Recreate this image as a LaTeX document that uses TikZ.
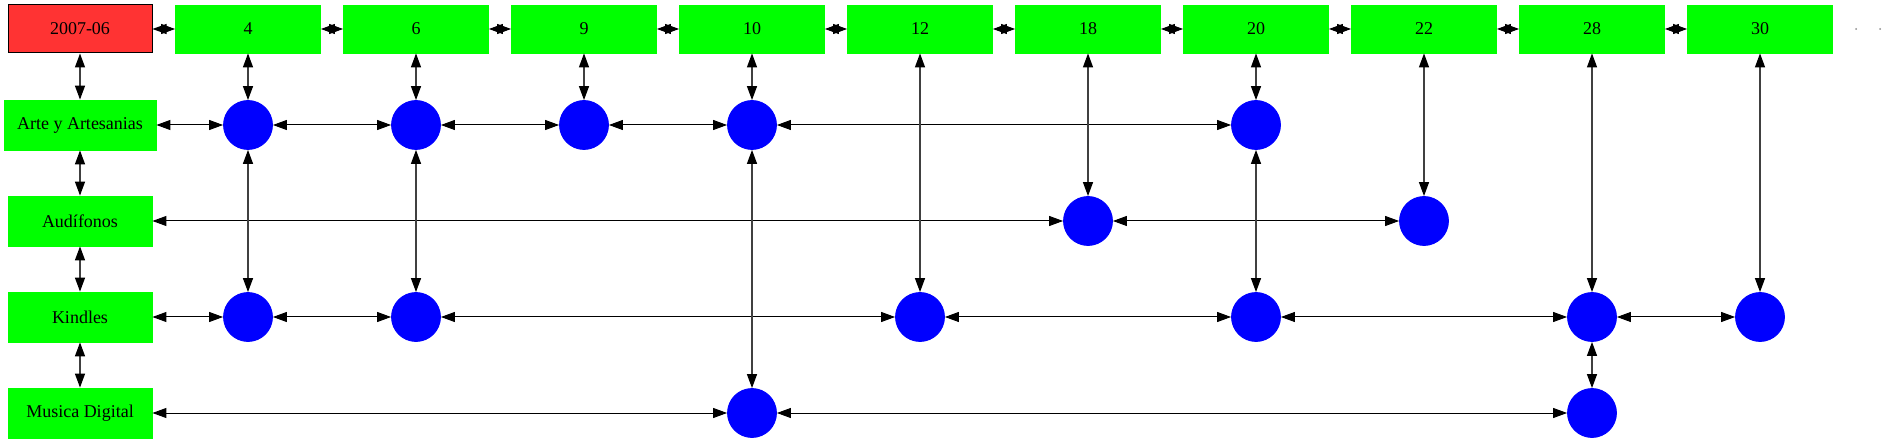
\documentclass[tikz,border=0pt]{standalone}
\usepackage{fontspec}
\setmainfont{Liberation Serif}
\usetikzlibrary{arrows.meta}
\definecolor{boxgreen}{HTML}{00FF00}
\definecolor{monthred}{HTML}{FF3333}
\definecolor{dotblue}{HTML}{0000FF}

\begin{document}
\begin{tikzpicture}[
    x=0.5pt, y=-0.5pt,
    every node/.style={font=\fontsize{9}{11}\selectfont},
    month/.style={draw=black, line width=0.5pt, fill=monthred, minimum width=72pt,
                  minimum height=24pt, inner sep=0pt},
    period/.style={draw=boxgreen, fill=boxgreen, minimum width=72.5pt,
                  minimum height=24pt, inner sep=0pt},
    category/.style={draw=boxgreen, fill=boxgreen, minimum width=72pt,
                  minimum height=25pt, inner xsep=6.5pt, inner ysep=0pt},
    sale/.style={circle, draw=dotblue, fill=dotblue, minimum size=24.5pt, inner sep=0pt},
    link/.style={{Triangle[length=7pt,width=5pt,color=black]}-{Triangle[length=7pt,width=5pt,color=black]},
                  line width=0.5pt},
    vlink/.style={link, draw=black!75, line width=0.65pt}
  ]
    \useasboundingbox (0,0) rectangle (1885,443);

    % Fila superior: mes y periodos
    \node[month]  (m0)  at (80,29)   {2007-06};
    \node[period] (p4)  at (248,29)  {4};
    \node[period] (p6)  at (416,29)  {6};
    \node[period] (p9)  at (584,29)  {9};
    \node[period] (p10) at (752,29)  {10};
    \node[period] (p12) at (920,29)  {12};
    \node[period] (p18) at (1088,29) {18};
    \node[period] (p20) at (1256,29) {20};
    \node[period] (p22) at (1424,29) {22};
    \node[period] (p28) at (1592,29) {28};
    \node[period] (p30) at (1760,29) {30};
    \coordinate (e1) at (1856,29);
    \coordinate (e2) at (1880,29);

    % Columna izquierda: categorias
    \node[category] (art) at (80,125) {Arte y Artesanias};
    \node[category] (aud) at (80,221) {Audífonos};
    \node[category] (kin) at (80,317) {Kindles};
    \node[category] (mus) at (80,413) {Musica Digital};

    % Ventas
    \node[sale] (art4)  at (248,125)  {};
    \node[sale] (art6)  at (416,125)  {};
    \node[sale] (art9)  at (584,125)  {};
    \node[sale] (art10) at (752,125)  {};
    \node[sale] (art20) at (1256,125) {};
    \node[sale] (aud18) at (1088,221) {};
    \node[sale] (aud22) at (1424,221) {};
    \node[sale] (kin4)  at (248,317)  {};
    \node[sale] (kin6)  at (416,317)  {};
    \node[sale] (kin12) at (920,317)  {};
    \node[sale] (kin20) at (1256,317) {};
    \node[sale] (kin28) at (1592,317) {};
    \node[sale] (kin30) at (1760,317) {};
    \node[sale] (mus10) at (752,413)  {};
    \node[sale] (mus28) at (1592,413) {};

    % Conexiones horizontales
    \draw[link] (m0) -- (p4);
    \draw[link] (p4) -- (p6);
    \draw[link] (p6) -- (p9);
    \draw[link] (p9) -- (p10);
    \draw[link] (p10) -- (p12);
    \draw[link] (p12) -- (p18);
    \draw[link] (p18) -- (p20);
    \draw[link] (p20) -- (p22);
    \draw[link] (p22) -- (p28);
    \draw[link] (p28) -- (p30);
    \fill[black!45] (e1) circle (0.5pt);
    \fill[black!45] (e2) circle (0.5pt);

    \draw[link] (art) -- (art4);
    \draw[link] (art4) -- (art6);
    \draw[link] (art6) -- (art9);
    \draw[link] (art9) -- (art10);
    \draw[link] (art10) -- (art20);

    \draw[link] (aud) -- (aud18);
    \draw[link] (aud18) -- (aud22);

    \draw[link] (kin) -- (kin4);
    \draw[link] (kin4) -- (kin6);
    \draw[link] (kin6) -- (kin12);
    \draw[link] (kin12) -- (kin20);
    \draw[link] (kin20) -- (kin28);
    \draw[link] (kin28) -- (kin30);

    \draw[link] (mus) -- (mus10);
    \draw[link] (mus10) -- (mus28);

    % Conexiones verticales
    \draw[vlink] (m0) -- (art);
    \draw[vlink] (art) -- (aud);
    \draw[vlink] (aud) -- (kin);
    \draw[vlink] (kin) -- (mus);

    \draw[vlink] (p4) -- (art4);
    \draw[vlink] (art4) -- (kin4);
    \draw[vlink] (p6) -- (art6);
    \draw[vlink] (art6) -- (kin6);
    \draw[vlink] (p9) -- (art9);
    \draw[vlink] (p10) -- (art10);
    \draw[vlink] (art10) -- (mus10);
    \draw[vlink] (p12) -- (kin12);
    \draw[vlink] (p18) -- (aud18);
    \draw[vlink] (p20) -- (art20);
    \draw[vlink] (art20) -- (kin20);
    \draw[vlink] (p22) -- (aud22);
    \draw[vlink] (p28) -- (kin28);
    \draw[vlink] (kin28) -- (mus28);
    \draw[vlink] (p30) -- (kin30);
  \end{tikzpicture}
\end{document}
